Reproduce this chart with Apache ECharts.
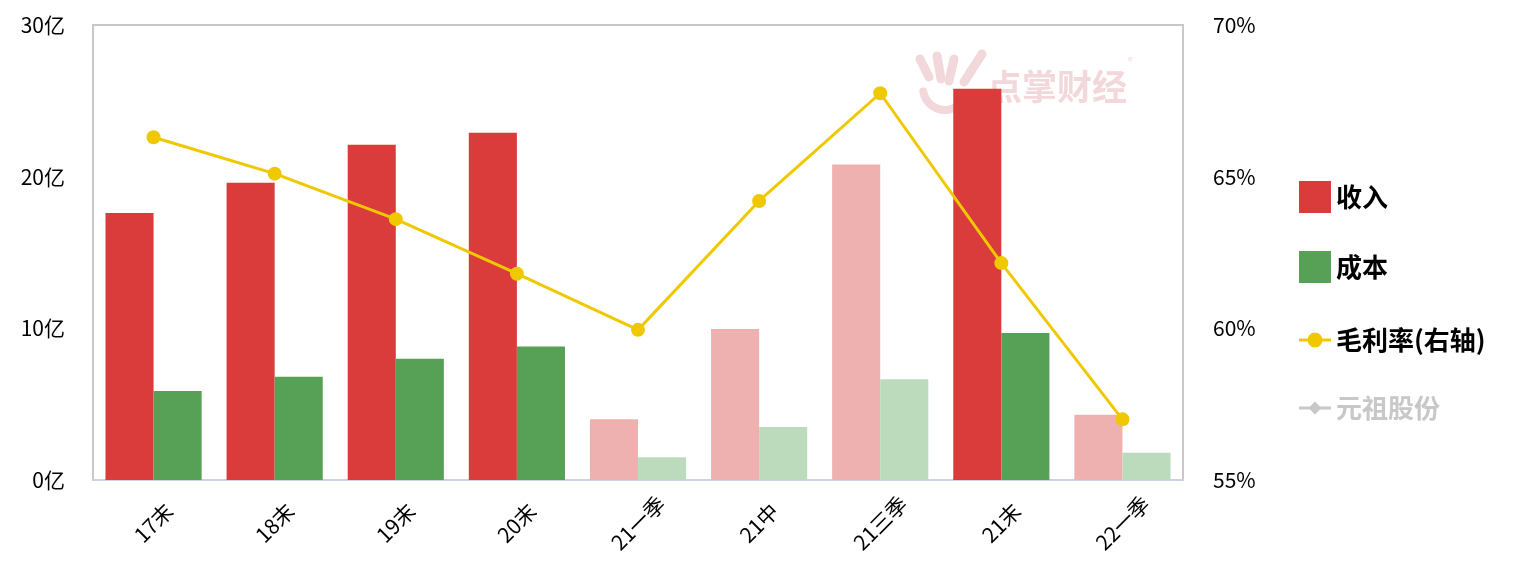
<!DOCTYPE html>
<html><head><meta charset="utf-8">
<script src="https://cdn.jsdelivr.net/npm/echarts@6/dist/echarts.min.js"></script>
<style>html,body{margin:0;padding:0;background:#fff}#c{width:1532px;height:586px}</style>
</head><body><div id="c"></div>
<script>
const categories = ['17末','18末','19末','20末','21一季','21中','21三季','21末','22一季'];
const revenue = [17.6, 19.6, 22.1, 22.9, 4.0, 9.95, 20.8, 25.8, 4.3];
const cost = [5.87, 6.8, 8.0, 8.8, 1.5, 3.5, 6.65, 9.7, 1.8];
const margin = [66.3, 65.1, 63.6, 61.8, 59.95, 64.2, 67.75, 62.15, 57.0];
const partial = [false, false, false, false, true, true, true, false, true];

const RED = '#DA3B3B', RED_L = '#EFB0B0', GREEN = '#57A157', GREEN_L = '#BCDBBC', YEL = '#EFC800';
const WM = '#F2D8DB';
const font = '"Noto Sans CJK SC", "Noto Sans", sans-serif';

const lineIcon = 'path://M0,14.5H32V17.5H0Z M16,8.5A7.5,7.5 0 1,1 15.99,8.5Z';
const diamondIcon = 'path://M0,14.5H32V17.5H0Z M16,9.5L22.5,16L16,22.5L9.5,16Z';

function stroke(x1, y1, x2, y2, w) {
  return { type: 'line', z: 0, shape: { x1, y1, x2, y2 }, style: { stroke: WM, lineWidth: w, lineCap: 'round' } };
}

const legendText = { fontSize: 26, fontWeight: 'bold', color: '#000', fontFamily: font };

const chart = echarts.init(document.getElementById('c'));
chart.setOption({
  animation: false,
  textStyle: { fontFamily: font },
  grid: { left: 93, right: 349, top: 25, bottom: 106, show: true, borderColor: '#C8C8C8', borderWidth: 2 },
  graphic: [
    { type: 'text', left: 987, top: 69, z: 0, style: { text: '点掌财经', fill: WM, font: 'bold 35px ' + font } },
    { type: 'text', left: 1128, top: 56, z: 0, style: { text: '®', fill: WM, font: '10px ' + font } },
    stroke(920, 59, 929, 77, 9),
    stroke(937, 56, 941, 79, 9),
    stroke(954, 59, 949, 81, 9),
    stroke(982, 54, 964, 82, 9),
    { type: 'arc', z: 0, shape: { cx: 945, cy: 88, r: 22, startAngle: Math.PI * 0.2, endAngle: Math.PI * 0.95 },
      style: { stroke: WM, lineWidth: 8, fill: null, lineCap: 'round' } }
  ],
  legend: [{
    orient: 'vertical', left: 1294, top: 176, itemWidth: 32, itemHeight: 32, itemGap: 38,
    textStyle: legendText,
    data: [{ name: '收入', icon: 'rect' }, { name: '成本', icon: 'rect' }]
  }, {
    orient: 'vertical', left: 1294, top: 322, itemWidth: 32, itemHeight: 32, itemGap: 42,
    textStyle: legendText, inactiveColor: '#C8C8C8',
    data: [{ name: '毛利率(右轴)', icon: lineIcon }, { name: '元祖股份', icon: diamondIcon }],
    selected: { '元祖股份': false }
  }],
  xAxis: {
    type: 'category', data: categories,
    axisLine: { lineStyle: { color: '#CAD3E3', width: 2 } },
    axisTick: { show: false },
    axisLabel: { rotate: 45, fontSize: 21, color: '#000', margin: 43, align: 'center', verticalAlign: 'middle', fontFamily: font }
  },
  yAxis: [{
    type: 'value', min: 0, max: 30, interval: 10,
    axisLine: { show: false }, axisTick: { show: false }, splitLine: { show: false },
    axisLabel: { fontSize: 21, color: '#000', margin: 28, formatter: v => v + '亿' }
  }, {
    type: 'value', min: 55, max: 70, interval: 5,
    axisLine: { show: false }, axisTick: { show: false }, splitLine: { show: false },
    axisLabel: { fontSize: 21, color: '#000', margin: 30, formatter: v => v + '%' }
  }],
  series: [{
    name: '收入', type: 'bar', barGap: '0%', barCategoryGap: '20.6%',
    itemStyle: { color: RED },
    data: revenue.map((v, i) => ({ value: v, itemStyle: { color: partial[i] ? RED_L : RED } }))
  }, {
    name: '成本', type: 'bar',
    itemStyle: { color: GREEN },
    data: cost.map((v, i) => ({ value: v, itemStyle: { color: partial[i] ? GREEN_L : GREEN } }))
  }, {
    name: '毛利率(右轴)', type: 'line', yAxisIndex: 1, data: margin,
    symbol: 'circle', symbolSize: 14, itemStyle: { color: YEL },
    lineStyle: { color: YEL, width: 3 }, z: 5
  }, {
    name: '元祖股份', type: 'line', yAxisIndex: 1, data: [],
    symbol: 'diamond', symbolSize: 12, itemStyle: { color: '#C8C8C8' }
  }]
});
</script></body></html>
